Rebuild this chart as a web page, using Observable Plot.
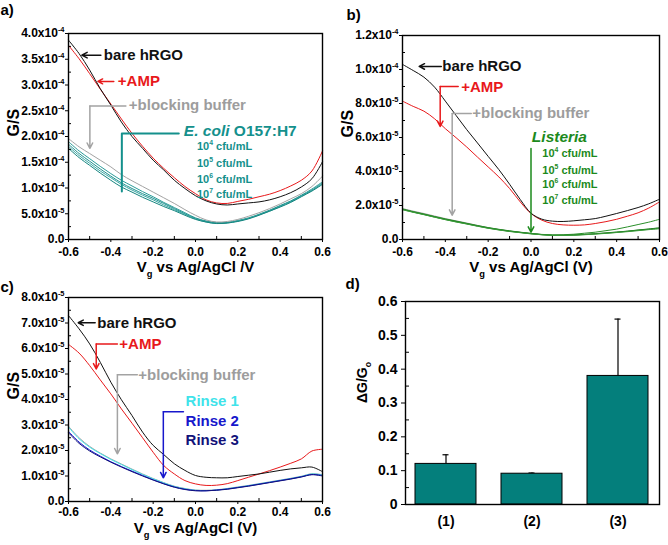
<!DOCTYPE html>
<html><head><meta charset="utf-8">
<script src="https://cdn.jsdelivr.net/npm/d3@7"></script>
<script src="https://cdn.jsdelivr.net/npm/@observablehq/plot@0.6"></script>
<style>
body{margin:0;background:#fff;font-family:"Liberation Sans",Arial,sans-serif;}
#wrap{position:relative;width:668px;height:545px;overflow:hidden;background:#fff}
.panel{position:absolute}
.panel svg{background:transparent !important;overflow:visible}
</style></head><body><div id="wrap"></div>
<script>
// ---------- shared x grid (gate voltage, V) ----------
const xs = [-0.6,-0.55,-0.5,-0.45,-0.4,-0.35,-0.3,-0.25,-0.2,-0.15,-0.1,-0.05,0,0.05,0.1,0.15,0.2,0.25,0.3,0.35,0.4,0.45,0.5,0.55,0.6];
const xMajor = [-0.6,-0.4,-0.2,0,0.2,0.4,0.6];
const xMinor = [-0.5,-0.3,-0.1,0.1,0.3,0.5];

// ---------- panel a (G in units of 1e-4 S) ----------
const aBare  = [3.87,3.61,3.29,2.93,2.61,2.28,2.00,1.77,1.54,1.35,1.15,0.99,0.85,0.75,0.69,0.67,0.69,0.71,0.73,0.77,0.83,0.91,1.02,1.18,1.51];
const aAmp   = [3.77,3.51,3.22,2.92,2.63,2.34,2.06,1.81,1.58,1.38,1.20,1.03,0.89,0.77,0.71,0.70,0.74,0.78,0.83,0.88,0.95,1.04,1.15,1.33,1.72];
const aBlock = [1.96,1.80,1.67,1.54,1.41,1.26,1.14,1.03,0.92,0.81,0.70,0.58,0.47,0.38,0.34,0.35,0.39,0.45,0.52,0.60,0.69,0.79,0.89,1.03,1.23];
const aEc4   = [1.90,1.72,1.57,1.42,1.28,1.15,1.04,0.93,0.83,0.72,0.62,0.52,0.42,0.36,0.33,0.33,0.37,0.42,0.49,0.57,0.66,0.75,0.86,0.98,1.12];
const aEc5   = [1.85,1.67,1.52,1.37,1.23,1.10,0.99,0.89,0.80,0.70,0.60,0.50,0.41,0.35,0.32,0.33,0.36,0.41,0.48,0.56,0.65,0.74,0.85,0.96,1.10];
const aEc6   = [1.81,1.63,1.48,1.33,1.20,1.07,0.96,0.86,0.77,0.67,0.58,0.49,0.40,0.34,0.31,0.32,0.36,0.41,0.48,0.55,0.64,0.73,0.84,0.95,1.08];
const aEc7   = [1.77,1.59,1.44,1.29,1.15,1.02,0.92,0.82,0.73,0.64,0.56,0.47,0.39,0.34,0.31,0.32,0.35,0.40,0.47,0.55,0.63,0.72,0.83,0.94,1.07];
const aTicks = [0,5e-5,1e-4,1.5e-4,2e-4,2.5e-4,3e-4,3.5e-4,4e-4];
const aMinor = [2.5e-5,7.5e-5,1.25e-4,1.75e-4,2.25e-4,2.75e-4,3.25e-4,3.75e-4];

// ---------- panel b (G in units of 1e-5 S) ----------
const bBare  = [10.3,9.94,9.55,8.96,8.14,7.30,6.46,5.68,4.89,4.11,3.25,2.35,1.55,1.20,1.08,1.06,1.10,1.16,1.23,1.37,1.53,1.70,1.88,2.10,2.37];
const bAmp   = [8.14,7.83,7.55,7.10,6.52,5.99,5.44,4.85,4.27,3.68,3.00,2.21,1.53,1.14,0.94,0.86,0.84,0.86,0.94,1.05,1.19,1.37,1.57,1.85,2.21];
const bBlock = [1.82,1.67,1.53,1.38,1.23,1.10,0.97,0.83,0.70,0.59,0.50,0.42,0.35,0.29,0.25,0.25,0.27,0.30,0.34,0.38,0.43,0.49,0.55,0.61,0.68];
const bLi4   = [1.80,1.64,1.50,1.35,1.21,1.08,0.95,0.82,0.70,0.60,0.51,0.43,0.36,0.30,0.27,0.28,0.31,0.37,0.43,0.52,0.61,0.74,0.88,1.02,1.19];
const bLi5   = [1.76,1.61,1.47,1.32,1.17,1.04,0.92,0.79,0.67,0.57,0.48,0.41,0.34,0.28,0.25,0.24,0.26,0.29,0.33,0.37,0.42,0.48,0.54,0.60,0.66];
const bLi6   = [1.78,1.62,1.48,1.33,1.19,1.06,0.93,0.80,0.68,0.58,0.49,0.42,0.35,0.29,0.25,0.25,0.27,0.30,0.34,0.39,0.44,0.49,0.56,0.62,0.69];
const bLi7   = [1.75,1.60,1.46,1.31,1.17,1.03,0.91,0.78,0.66,0.56,0.47,0.40,0.33,0.28,0.24,0.24,0.25,0.28,0.32,0.36,0.41,0.46,0.52,0.58,0.63];
const bTicks = [0,2e-5,4e-5,6e-5,8e-5,1e-4,1.2e-4];
const bMinor = [1e-5,3e-5,5e-5,7e-5,9e-5,1.1e-4];

// ---------- panel c (G in units of 1e-5 S) ----------
const cBare   = [7.29,6.77,6.18,5.46,4.68,3.99,3.37,2.72,2.20,1.84,1.48,1.22,1.02,0.95,0.93,0.93,0.98,1.03,1.08,1.15,1.22,1.28,1.32,1.35,1.17];
const cAmp    = [6.16,5.82,5.33,4.77,4.22,3.63,3.07,2.50,1.93,1.41,1.08,0.82,0.69,0.63,0.64,0.70,0.82,0.95,1.08,1.21,1.35,1.50,1.67,1.98,2.05];
const cBlock  = [2.95,2.50,2.16,1.90,1.67,1.47,1.27,1.08,0.90,0.74,0.60,0.51,0.45,0.44,0.46,0.51,0.57,0.63,0.70,0.77,0.84,0.91,0.99,1.09,1.05];
const cRinse1 = [2.92,2.46,2.13,1.88,1.65,1.45,1.25,1.06,0.89,0.73,0.59,0.50,0.44,0.43,0.45,0.50,0.56,0.62,0.69,0.76,0.83,0.90,0.98,1.08,1.04];
const cRinse2 = [2.75,2.33,2.02,1.78,1.56,1.37,1.19,1.02,0.85,0.70,0.57,0.48,0.43,0.42,0.45,0.49,0.55,0.61,0.68,0.75,0.82,0.89,0.97,1.06,1.02];
const cRinse3 = [2.70,2.28,1.98,1.75,1.54,1.35,1.17,1.00,0.84,0.69,0.56,0.47,0.42,0.42,0.44,0.48,0.54,0.60,0.67,0.74,0.81,0.88,0.96,1.05,1.00];
const cTicks = [0,1e-5,2e-5,3e-5,4e-5,5e-5,6e-5,7e-5,8e-5];
const cMinor = [0.5e-5,1.5e-5,2.5e-5,3.5e-5,4.5e-5,5.5e-5,6.5e-5,7.5e-5];

// ---------- panel d ----------
const dCats  = ["(1)","(2)","(3)"];
const dVals  = [0.12,0.091,0.38];
const dErr   = [0.027,0.002,0.168];
const dTicks = [0,0.1,0.2,0.3,0.4,0.5,0.6];
const dMinor = [0.05,0.15,0.25,0.35,0.45,0.55];

// ---------- helpers ----------
const FONT = '"Liberation Sans", Arial, sans-serif';
const C = {black:"#111111", red:"#e8191b", gray:"#a3a3a3", grayT:"#9d9d9d", teal:"#14908c",
           green:"#1c8a1c", cyan:"#3fe3ea", blue:"#1717cc", navy:"#12127a", bar:"#047f7c"};

function rows(list, scale){ // list of [values, key, color]
  return list.flatMap(([vals,key,color]) => vals.map((v,i)=>({x:xs[i], y:v*scale, key, color})));
}
function sci(d){
  if (d === 0) return "0.0";
  const e = Math.floor(Math.log10(d) + 1e-9);
  return (d/Math.pow(10,e)).toFixed(1) + "x10^{" + e + "}";
}
function richify(root){
  root.querySelectorAll("text").forEach(t=>{
    const leafs = t.querySelectorAll("tspan").length ? [...t.querySelectorAll("tspan")] : [t];
    leafs.forEach(el=>{
      const s = el.textContent;
      if (!/[\^_~]\{/.test(s)) return;
      const fs = parseFloat(getComputedStyle(el).fontSize) || 12;
      el.textContent = "";
      const parts = s.split(/([\^_~]\{[^}]*\})/);
      let shift = 0;
      for (const p of parts) {
        if (!p) continue;
        const m = p.match(/^([\^_~])\{([^}]*)\}$/);
        const ts = document.createElementNS("http://www.w3.org/2000/svg","tspan");
        if (m && m[1] !== "~") {
          const target = m[1]==="^" ? -0.42*fs : 0.32*fs;
          ts.setAttribute("dy", target - shift); shift = target;
          ts.setAttribute("font-size", (0.62*fs).toFixed(2));
          ts.textContent = m[2];
        } else {
          if (shift) ts.setAttribute("dy", -shift); shift = 0;
          if (m) { ts.setAttribute("font-style","italic"); ts.textContent = m[2]; }
          else ts.textContent = p;
        }
        el.appendChild(ts);
      }
    });
  });
}
function place(el, left, top){
  const d = document.createElement("div");
  d.className = "panel"; d.style.left = left+"px"; d.style.top = top+"px";
  d.appendChild(el); document.getElementById("wrap").appendChild(d);
  richify(el);
}
const bold = {fontWeight:"bold"};

function xAxes(pad){
  return [
    Plot.axisX({ticks:xMajor, tickSize:3, tickPadding:pad, tickFormat:d=>d.toFixed(1), fontSize:12, ...bold, label:null}),
    Plot.axisX({ticks:xMinor, tickSize:3, insetBottom:3, tickFormat:()=>"", label:null})
  ];
}
function yAxes(ticks, minor){
  return [
    Plot.axisY({ticks, tickSize:3, tickPadding:1, tickFormat:sci, fontSize:12, ...bold, label:null}),
    Plot.axisY({ticks:minor, tickSize:3, insetLeft:3, tickFormat:()=>"", label:null})
  ];
}
function ann(text, x, y, color, size=15, extra={}){
  return Plot.text([text], {x:()=>x, y:()=>y, text:d=>d, fill:color, fontSize:size, ...bold, textAnchor:"start", ...extra});
}
function seg(pts, color, w=1.5){
  return Plot.line(pts, {x:"0", y:"1", stroke:color, strokeWidth:w});
}
function arr(x1,y1,x2,y2,color){
  return Plot.arrow([0], {x1:()=>x1, y1:()=>y1, x2:()=>x2, y2:()=>y2, stroke:color, strokeWidth:1.5, headLength:6, headAngle:55});
}
function lines(data){
  return Plot.line(data, {x:"x", y:"y", z:"key", stroke:"color", strokeWidth:1, curve:"catmull-rom"});
}
const common = {width:334, height:275, style:{background:"transparent", fontFamily:FONT, overflow:"visible"}};

// ---------- panel a ----------
const aData = rows([[aEc4,"e4","#2a9c99"],[aEc5,"e5","#1f918e"],[aEc6,"e6","#3aa8a5"],[aEc7,"e7","#15857f"],
                    [aBlock,"blk",C.gray],[aAmp,"amp",C.red],[aBare,"bare",C.black]], 1e-4);
place(Plot.plot({...common, marginLeft:68, marginRight:12, marginTop:33, marginBottom:36,
  x:{domain:[-0.6,0.6]}, y:{domain:[0,4e-4]},
  marks:[
    lines(aData),
    ...xAxes(4.5), ...yAxes(aTicks, aMinor),
    Plot.frame({stroke:"#000", strokeWidth:1.4}),
    arr(-0.447,3.58e-4,-0.537,3.58e-4,C.black), ann("bare hRGO",-0.433,3.58e-4,C.black),
    arr(-0.386,3.07e-4,-0.461,3.07e-4,C.red), ann("+AMP",-0.367,3.07e-4,C.red),
    seg([[-0.329,2.59e-4],[-0.499,2.59e-4]],C.gray), arr(-0.499,2.59e-4,-0.499,1.77e-4,C.gray),
    ann("+blocking buffer",-0.315,2.60e-4,C.grayT),
    seg([[-0.079,2.06e-4],[-0.348,2.06e-4],[-0.348,0.93e-4]],C.teal,2),
    ann("~{E. coli} O157:H7",-0.055,2.10e-4,C.teal,15.5),
    ann("10^{4} cfu/mL",0.007,1.81e-4,C.teal,11), ann("10^{5} cfu/mL",0.007,1.48e-4,C.teal,11),
    ann("10^{6} cfu/mL",0.007,1.17e-4,C.teal,11), ann("10^{7} cfu/mL",0.007,0.88e-4,C.teal,11),
    Plot.text(["G/S"], {frameAnchor:"left", dx:-55, rotate:-90, fontSize:16, ...bold}),
    Plot.text(["V_{g} vs Ag/AgCl /V"], {frameAnchor:"bottom", dy:28, lineAnchor:"middle", fontSize:15, ...bold}),
    Plot.text(["a)"], {frameAnchor:"top-left", dx:-68, dy:-29, textAnchor:"start", lineAnchor:"top", fontSize:15, ...bold})
  ]}), 0, 0);

// ---------- panel b ----------
const bData = rows([[bBlock,"blk",C.gray],[bLi4,"l4","#2a8f2a"],[bLi5,"l5","#4aa64a"],[bLi6,"l6","#1c7f1c"],[bLi7,"l7","#3a9a3a"],
                    [bAmp,"amp",C.red],[bBare,"bare",C.black]], 1e-5);
place(Plot.plot({...common, marginLeft:68, marginRight:9, marginTop:35, marginBottom:36,
  x:{domain:[-0.6,0.6]}, y:{domain:[0,1.2e-4]},
  marks:[
    lines(bData),
    ...xAxes(4.5), ...yAxes(bTicks, bMinor),
    Plot.frame({stroke:"#000", strokeWidth:1.4}),
    arr(-0.419,1.018e-4,-0.522,1.018e-4,C.black), ann("bare hRGO",-0.414,1.018e-4,C.black),
    seg([[-0.340,0.90e-4],[-0.424,0.90e-4]],C.red), arr(-0.424,0.90e-4,-0.424,0.665e-4,C.red),
    ann("+AMP",-0.326,0.895e-4,C.red),
    seg([[-0.279,0.741e-4],[-0.368,0.741e-4]],C.gray), arr(-0.368,0.741e-4,-0.368,0.143e-4,C.gray),
    ann("+blocking buffer",-0.274,0.741e-4,C.grayT),
    arr(0,0.536e-4,0,0.043e-4,C.green),
    ann("~{Listeria}",0.004,0.601e-4,C.green,15.5),
    ann("10^{4} cfu/mL",0.053,0.507e-4,C.green,11), ann("10^{5} cfu/mL",0.053,0.407e-4,C.green,11),
    ann("10^{6} cfu/mL",0.053,0.325e-4,C.green,11), ann("10^{7} cfu/mL",0.053,0.231e-4,C.green,11),
    Plot.text(["G/S"], {frameAnchor:"left", dx:-55, rotate:-90, fontSize:16, ...bold}),
    Plot.text(["V_{g} vs Ag/AgCl (V)"], {frameAnchor:"bottom", dy:28, lineAnchor:"middle", fontSize:15, ...bold}),
    Plot.text(["b)"], {frameAnchor:"top-left", dx:-56, dy:-26, textAnchor:"start", lineAnchor:"top", fontSize:15, ...bold})
  ]}), 334, 0);

// ---------- panel c ----------
const cData = rows([[cBlock,"blk",C.gray],[cRinse1,"r1",C.cyan],[cRinse2,"r2",C.blue],[cRinse3,"r3",C.navy],
                    [cAmp,"amp",C.red],[cBare,"bare",C.black]], 1e-5);
place(Plot.plot({...common, marginLeft:68, marginRight:12, marginTop:27, marginBottom:44,
  x:{domain:[-0.6,0.6]}, y:{domain:[0,8e-5]},
  marks:[
    lines(cData),
    ...xAxes(3), ...yAxes(cTicks, cMinor),
    Plot.frame({stroke:"#000", strokeWidth:1.4}),
    arr(-0.474,7.01e-5,-0.554,7.01e-5,C.black), ann("bare hRGO",-0.464,7.01e-5,C.black),
    seg([[-0.369,6.18e-5],[-0.469,6.18e-5]],C.red), arr(-0.469,6.18e-5,-0.469,5.20e-5,C.red),
    ann("+AMP",-0.360,6.18e-5,C.red),
    seg([[-0.275,4.97e-5],[-0.369,4.97e-5]],C.gray), arr(-0.369,4.97e-5,-0.369,1.87e-5,C.gray),
    ann("+blocking buffer",-0.270,4.97e-5,C.grayT),
    seg([[-0.057,3.52e-5],[-0.152,3.52e-5]],C.blue), arr(-0.152,3.52e-5,-0.152,0.93e-5,C.blue),
    ann("Rinse 1",-0.047,3.95e-5,C.cyan), ann("Rinse 2",-0.047,3.16e-5,C.blue), ann("Rinse 3",-0.047,2.42e-5,C.navy),
    Plot.text(["G/S"], {frameAnchor:"left", dx:-55, rotate:-90, fontSize:16, ...bold}),
    Plot.text(["V_{g} vs Ag/AgCl (V)"], {frameAnchor:"bottom", dy:27, lineAnchor:"middle", fontSize:15, ...bold}),
    Plot.text(["c)"], {frameAnchor:"top-left", dx:-68, dy:-16, textAnchor:"start", lineAnchor:"top", fontSize:15, ...bold})
  ]}), 0, 270);

// ---------- panel d ----------
const dData = dCats.map((c,i)=>({cat:c, v:dVals[i], hi:dVals[i]+dErr[i]}));
place(Plot.plot({...common, marginLeft:71, marginRight:9, marginTop:31, marginBottom:41,
  x:{domain:dCats, paddingInner:0.29, paddingOuter:0.11}, y:{domain:[0,0.6]},
  marks:[
    Plot.ruleX(dData, {x:"cat", y1:"v", y2:"hi", stroke:"#000", strokeWidth:1.2}),
    Plot.tickY(dData, {x:"cat", y:"hi", stroke:"#000", strokeWidth:1.2, insetLeft:27.5, insetRight:27.5}),
    Plot.barY(dData, {x:"cat", y:"v", fill:C.bar, stroke:"#000", strokeWidth:1}),
    Plot.axisY({ticks:dTicks, tickSize:4, tickPadding:4, tickFormat:d=>d===0?"0":d.toFixed(1), fontSize:14, ...bold, label:null}),
    Plot.axisY({ticks:dMinor, tickSize:4, insetLeft:4, tickFormat:()=>"", label:null}),
    Plot.axisX({tickSize:0, tickPadding:12, fontSize:14, ...bold, label:null}),
    Plot.frame({stroke:"#000", strokeWidth:1.4}),
    Plot.text(["ΔG/G_{o}"], {frameAnchor:"left", dx:-43, rotate:-90, fontSize:14, ...bold}),
    Plot.text(["d)"], {frameAnchor:"top-left", dx:-60, dy:-23, textAnchor:"start", lineAnchor:"top", fontSize:15, ...bold})
  ]}), 334, 270);
</script></body></html>
